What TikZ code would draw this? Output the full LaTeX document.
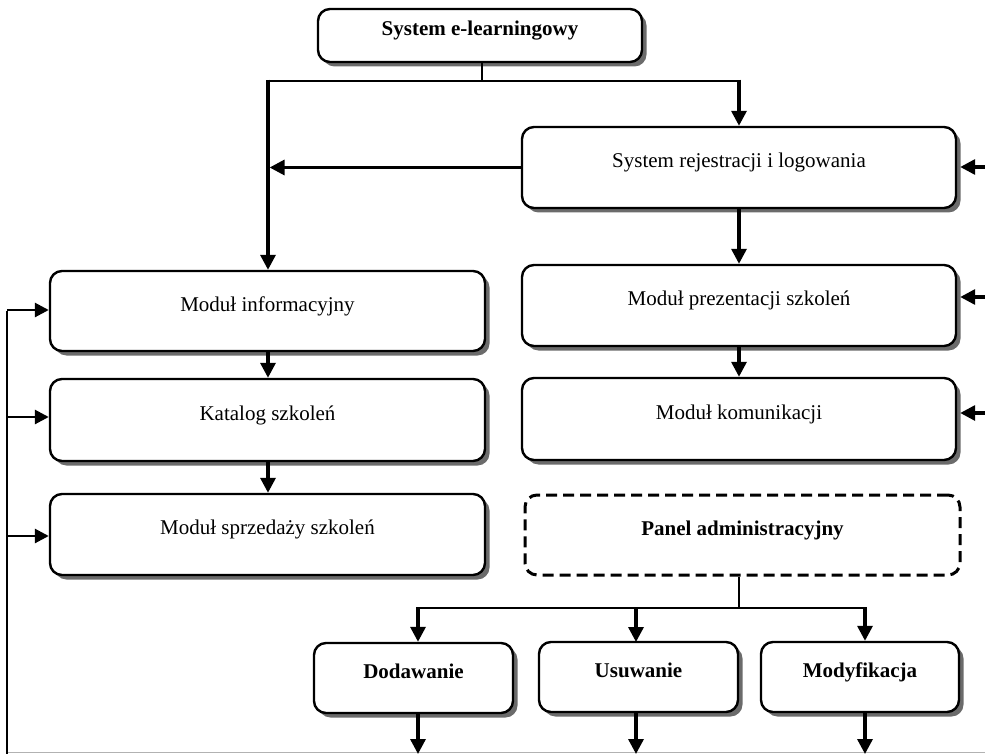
\documentclass[tikz,border=0pt]{standalone}
\usepackage{fontspec}
\setmainfont{Liberation Serif}
\usetikzlibrary{arrows.meta,shadows,calc}
\begin{document}
\begin{tikzpicture}[x=1pt,y=-1pt,
  box/.style={draw, line width=2.4pt, rounded corners=12pt, fill=white,
    drop shadow={shadow xshift=4.5pt,shadow yshift=-4.5pt,fill=black!58,opacity=1},
    text height=15pt, text depth=15pt, inner sep=0pt,
    font=\fontsize{21}{25}\selectfont},
  bigbox/.style={box, minimum width=434pt, minimum height=81pt},
  smallbox/.style={box, minimum width=199pt, minimum height=70pt, font=\fontsize{21}{25}\selectfont\bfseries},
  dashbox/.style={draw, line width=3pt, rounded corners=12pt, dash pattern=on 11pt off 6pt,
    minimum width=435pt, minimum height=80pt, text height=15pt, text depth=15pt, inner sep=0pt,
    font=\fontsize{21}{25}\selectfont\bfseries},
  arr/.style={line width=3.3pt, -{Triangle[length=15pt,width=15pt]}},
  larr/.style={line width=2.8pt, -{Triangle[length=14pt,width=14pt]}},
  thinline/.style={line width=1.4pt},
  midline/.style={line width=2.6pt}
]
\useasboundingbox (0,0) rectangle (985,754);

% bottom grey edge
\coordinate (g1) at (7,752.5);
\coordinate (g2) at (985,752.5);
\draw[black!30, line width=1pt] (g1) -- (g2);

% nodes
\node[box, minimum width=324pt, minimum height=53pt, font=\fontsize{21}{25}\selectfont\bfseries] (top) at (480,35.5) {System e-learningowy};
\node[bigbox] (srl) at (739,167.5) {System rejestracji i logowania};
\node[bigbox] (mps) at (739,305.5) {Moduł prezentacji szkoleń};
\node[bigbox, minimum height=82pt] (mk) at (739,419) {Moduł komunikacji};
\node[dashbox] (pa) at (742.5,535) {Panel administracyjny};

\node[bigbox, minimum width=435pt, minimum height=80pt] (mi) at (267.5,311) {Moduł informacyjny};
\node[bigbox, minimum width=435pt, minimum height=82pt] (ks) at (267.5,420) {Katalog szkoleń};
\node[bigbox, minimum width=435pt] (mss) at (267.5,534.5) {Moduł sprzedaży szkoleń};

\node[smallbox] (dod) at (413.5,678) {Dodawanie};
\node[smallbox] (usu) at (638.5,677) {Usuwanie};
\node[smallbox, minimum width=198pt] (mod) at (860,677) {Modyfikacja};

% top connectors
\coordinate (tj) at (482,81);
\coordinate (tl) at (268,81);
\coordinate (tr) at (739,81);
\draw[thinline] ([xshift=2pt]top.south) -- (tj);
\draw[midline] ([xshift=-1.6pt]tl) -- ([xshift=1.6pt]tr);
\draw[arr] ([yshift=1.3pt]tl) -- (tl |- mi.north);
\draw[arr] ([yshift=1.3pt]tr) -- (srl.north);
\draw[arr] (srl.west) -- ([xshift=1.6pt]tl |- srl.west);

% right column
\draw[arr] (srl.south) -- (mps.north);
\draw[arr] (mps.south) -- (mk.north);
\coordinate (re1) at (985,167);
\coordinate (re2) at (985,297);
\coordinate (re3) at (985,413);
\draw[arr] (re1) -- ([xshift=3pt]srl.east |- re1);
\draw[arr] (re2) -- ([xshift=3pt]mps.east |- re2);
\draw[arr] (re3) -- ([xshift=3pt]mk.east |- re3);

% left column
\draw[arr] ([xshift=0.5pt]mi.south) -- ([xshift=0.5pt]ks.north);
\draw[arr] ([xshift=0.5pt]ks.south) -- ([xshift=0.5pt]mss.north);
\coordinate (lt) at (7,310);
\coordinate (lb) at (7,754);
\draw[line width=2.4pt] ([yshift=-1.2pt]lt) -- (lb);
\draw[larr] (lt) -- (mi.west |- lt);
\draw[larr] (7,417) -- (ks.west |- 0,417);
\draw[larr] (7,536) -- (mss.west |- 0,536);

% admin panel
\coordinate (pj) at (739,608);
\draw[line width=1.8pt] (pa.south -| pj) -- (pj);
\coordinate (pl) at (418,608);
\coordinate (pr) at (865,608);
\draw[midline, line width=2pt] ([xshift=-1.6pt]pl) -- ([xshift=1.6pt]pr);
\draw[arr] ([yshift=1pt]pl) -- (pl |- dod.north);
\draw[arr] (636,609) -- (636,642);
\draw[arr] ([yshift=1pt]pr) -- (pr |- mod.north);

% bottom outgoing arrows
\coordinate (b1) at (418,754);
\coordinate (b2) at (636,754);
\coordinate (b3) at (865,754);
\draw[arr] (b1 |- dod.south) -- (b1);
\draw[arr] (b2 |- usu.south) -- (b2);
\draw[arr] (b3 |- mod.south) -- (b3);
\end{tikzpicture}
\end{document}
